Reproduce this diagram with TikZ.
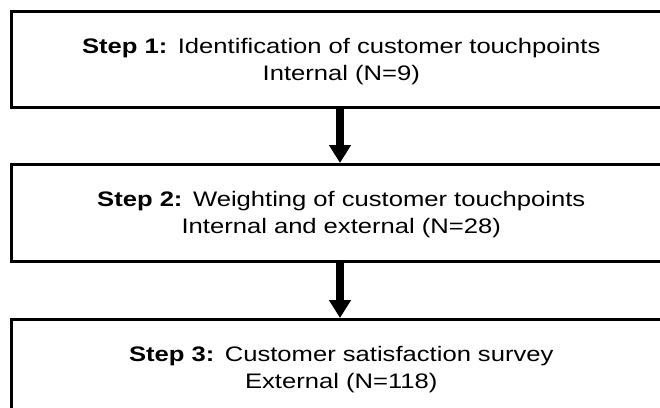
\documentclass[tikz,border=0pt]{standalone}
\usepackage{fontspec}
\setmainfont[FakeStretch=1.22]{Liberation Sans}
\usetikzlibrary{positioning,arrows.meta}
\tikzset{
    stepBox/.style={draw=black, line width=2.5bp, fill=white, anchor=north west,
        align=center, text width=660bp, inner xsep=0pt, inner ysep=0pt,
        text height=42bp, font={\fontsize{21bp}{27bp}\selectfont}},
    stepArrow/.style={line width=8bp, -{Triangle[width=21bp,length=18bp]}}
}
\begin{document}
\begin{tikzpicture}[x=1bp,y=-1bp]
    \useasboundingbox (0,0) rectangle (660,407);
    \clip (0,0) rectangle (660,407);
    \node[stepBox, text depth=54bp] (box1) at (10,10)
        {\textbf{Step 1:} Identification of customer touchpoints\\Internal (N=9)};
    \node[stepBox, text depth=55bp] (box2) at (10,163)
        {\textbf{Step 2:} Weighting of customer touchpoints\\Internal and external (N=28)};
    \node[stepBox, text depth=62bp] (box3) at (10,318)
        {\textbf{Step 3:} Customer satisfaction survey\\External (N=118)};
    \coordinate (arrowX) at (340,0);
    \draw[stepArrow] (box1.south -| arrowX) -- (box2.north -| arrowX);
    \draw[stepArrow] (box2.south -| arrowX) -- (box3.north -| arrowX);
\end{tikzpicture}
\end{document}
